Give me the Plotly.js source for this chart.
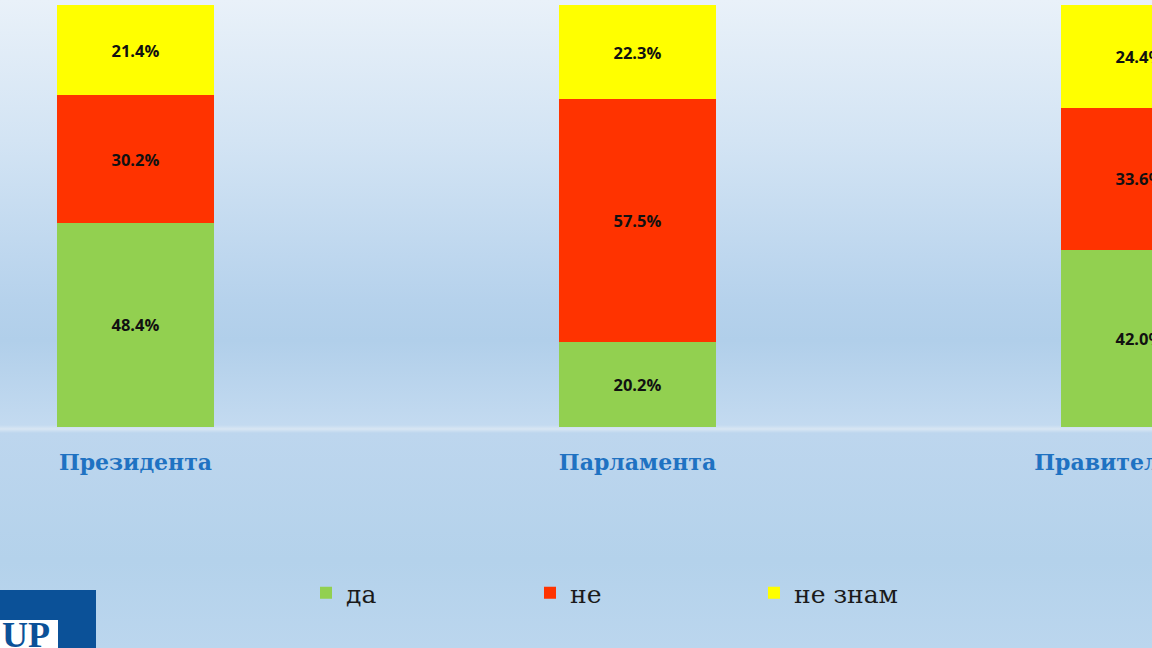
<!DOCTYPE html>
<html>
<head>
<meta charset="utf-8">
<script src="https://cdn.plot.ly/plotly-3.0.1.min.js"></script>
<style>
  html, body { margin: 0; padding: 0; }
  body {
    width: 1152px; height: 648px; overflow: hidden;
    background: linear-gradient(to bottom,
      #e9f1f9 0px, #d3e4f4 140px, #b6d2ec 300px, #b1cfea 340px,
      #c3daf0 425px, #d8e6f3 429px, #bdd6ee 433px, #b4d2eb 560px, #bbd6ee 648px);
  }
  #chart { width: 1152px; height: 648px; }
</style>
</head>
<body>
<div id="chart"></div>
<script>
const categories = ["Президента", "Парламента", "Правителството"];
const seriesNames = ["да", "не", "не знам"];
const yesValues = [48.4, 20.2, 42.0];
const noValues = [30.2, 57.5, 33.6];
const dontKnowValues = [21.4, 22.3, 24.4];
const seriesColors = ["#92d050", "#ff3300", "#ffff00"];

const W = 1152, H = 648;
const plotTop = 5, plotBottom = 427;
const px = x => x / W;
const py = y => (plotBottom - y) / (plotBottom - plotTop);

const xs = [0, 1, 2];
const seriesValues = [yesValues, noValues, dontKnowValues];
const traces = seriesValues.map((vals, i) => ({
  type: "bar",
  name: seriesNames[i],
  x: xs,
  y: vals,
  width: 0.3127,
  marker: { color: seriesColors[i], line: { width: 0 } },
  texttemplate: "%{y:.1f}%",
  textposition: "inside",
  insidetextanchor: "middle",
  constraintext: "none",
  textfont: { family: "Open Sans, sans-serif", size: 16.5, weight: "bold", color: "#111111" },
  hoverinfo: "skip"
}));

const layout = {
  width: W, height: H,
  paper_bgcolor: "rgba(0,0,0,0)",
  plot_bgcolor: "rgba(0,0,0,0)",
  margin: { l: 0, r: 0, t: plotTop, b: H - plotBottom, pad: 0 },
  barmode: "stack",
  showlegend: true,
  xaxis: {
    range: [-0.2699, 2.0249],
    tickmode: "array",
    tickvals: xs,
    ticktext: categories,
    ticklabeloverflow: "allow",
    showgrid: false, zeroline: false, showline: false,
    ticks: "outside", ticklen: 16, tickcolor: "rgba(0,0,0,0)",
    tickfont: { family: "DejaVu Serif, serif", size: 22, weight: "bold", color: "#1f72c2" },
    fixedrange: true
  },
  yaxis: {
    range: [0, 100],
    visible: false,
    fixedrange: true
  },
  legend: {
    orientation: "h",
    x: px(306), xanchor: "left",
    y: py(593), yanchor: "middle",
    entrywidth: 179, entrywidthmode: "pixels",
    font: { family: "DejaVu Serif, serif", size: 25, color: "#1a1a1a" },
    bgcolor: "rgba(0,0,0,0)",
    traceorder: "normal"
  },
  shapes: [
    { type: "rect", xref: "paper", yref: "paper", x0: px(0), x1: px(96), y0: py(590), y1: py(650),
      fillcolor: "#0b5198", line: { width: 0 }, layer: "above" },
    { type: "rect", xref: "paper", yref: "paper", x0: px(0), x1: px(58), y0: py(620), y1: py(650),
      fillcolor: "#ffffff", line: { width: 0 }, layer: "above" }
  ],
  annotations: [
    { xref: "paper", yref: "paper", x: px(26), y: py(657), xanchor: "center", yanchor: "bottom",
      text: "UP", showarrow: false,
      font: { family: "Liberation Serif, serif", size: 36, weight: "bold", color: "#0b5198" } }
  ]
};

Plotly.newPlot("chart", traces, layout, { displayModeBar: false, staticPlot: true });
</script>
</body>
</html>
